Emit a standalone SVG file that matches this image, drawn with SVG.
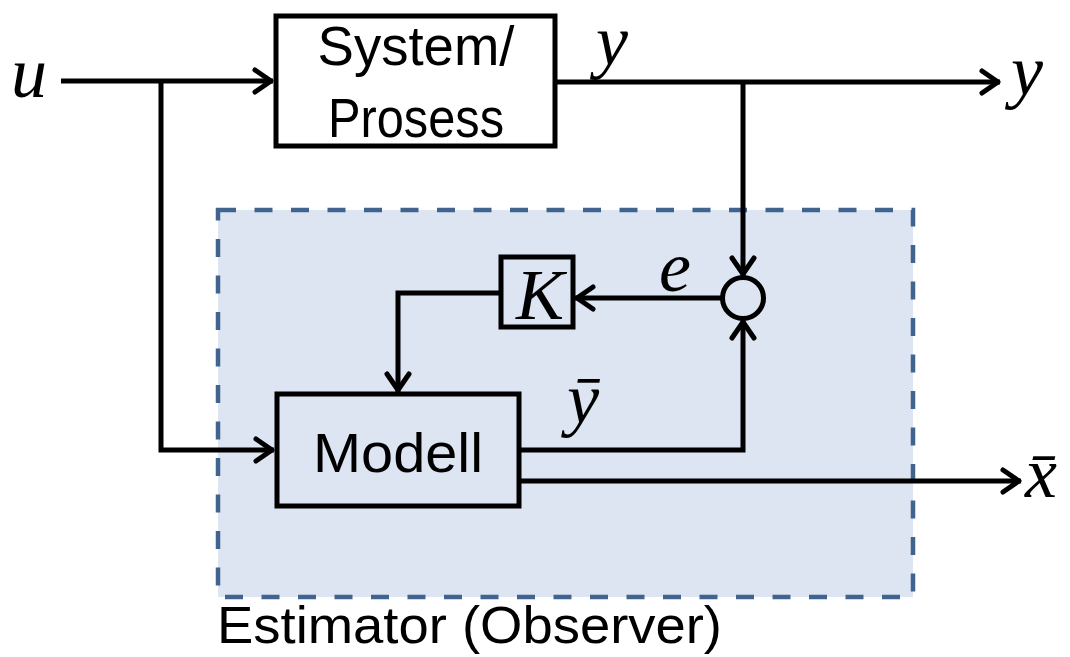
<svg xmlns="http://www.w3.org/2000/svg" width="1070" height="657" viewBox="0 0 1070 657">
  <style>
    .ln { fill: none; stroke: #000; stroke-width: 5; stroke-linejoin: miter; }
    .box { stroke: #000; stroke-width: 5; }
    .sans { font-family: "Liberation Sans", Arial, sans-serif; fill: #000; }
    .math { font-family: "Liberation Serif", "DejaVu Serif", serif; font-style: italic; font-size: 72px; fill: #000; }
  </style>
  <defs>
    <marker id="arr" markerUnits="userSpaceOnUse" orient="auto" refX="0" refY="0" markerWidth="30" markerHeight="30" viewBox="-25 -15 30 30" overflow="visible">
      <path d="M-18,-11 L-2,0 L-18,11" fill="none" stroke="#000" stroke-width="5" stroke-linecap="round" stroke-linejoin="round"/>
    </marker>
  </defs>
  <rect width="1070" height="657" fill="#fff"/>

  <g id="estimator">
    <rect x="218" y="210" width="695" height="387" fill="#dce5f1" stroke="#41648f" stroke-width="4.5" stroke-dasharray="18 18.5"/>
    <text class="sans" x="217" y="643" font-size="52" textLength="505" lengthAdjust="spacingAndGlyphs">Estimator (Observer)</text>
  </g>

  <g id="system">
    <rect class="box" x="276" y="16" width="279" height="130" fill="#fff"/>
    <text class="sans" x="416" y="65" font-size="56" text-anchor="middle" textLength="197" lengthAdjust="spacingAndGlyphs">System/</text>
    <text class="sans" x="416" y="137" font-size="56" text-anchor="middle" textLength="176" lengthAdjust="spacingAndGlyphs">Prosess</text>
  </g>

  <g id="modell">
    <rect class="box" x="277" y="394" width="242" height="112" fill="#dce5f1"/>
    <text class="sans" x="398" y="472" font-size="56" text-anchor="middle" textLength="170" lengthAdjust="spacingAndGlyphs">Modell</text>
  </g>

  <g id="gain-K">
    <rect class="box" x="501" y="257" width="72" height="70" fill="#dce5f1"/>
    <text class="math" x="516" y="319">K</text>
  </g>

  <g id="sum">
    <circle class="box" cx="743" cy="298" r="20.5" fill="#dce5f1"/>
  </g>

  <g id="connectors">
    <path class="ln" d="M61,81 H273" marker-end="url(#arr)"/>
    <path class="ln" d="M161,81 V450 H274" marker-end="url(#arr)"/>
    <path class="ln" d="M557,82 H1000" marker-end="url(#arr)"/>
    <path class="ln" d="M743,82 V276" marker-end="url(#arr)"/>
    <path class="ln" d="M721,298 H575" marker-end="url(#arr)"/>
    <path class="ln" d="M499,293 H398 V392" marker-end="url(#arr)"/>
    <path class="ln" d="M521,450 H743 V320" marker-end="url(#arr)"/>
    <path class="ln" d="M521,481 H1021" marker-end="url(#arr)"/>
  </g>

  <g id="labels">
    <text class="math" x="11" y="97">u</text>
    <text class="math" x="596" y="65">y</text>
    <text class="math" x="1011" y="95">y</text>
    <text class="math" x="659" y="291">e</text>
    <text class="math" x="567" y="423">ȳ</text>
    <text class="math" x="1025" y="497">x̄</text>
  </g>
</svg>
